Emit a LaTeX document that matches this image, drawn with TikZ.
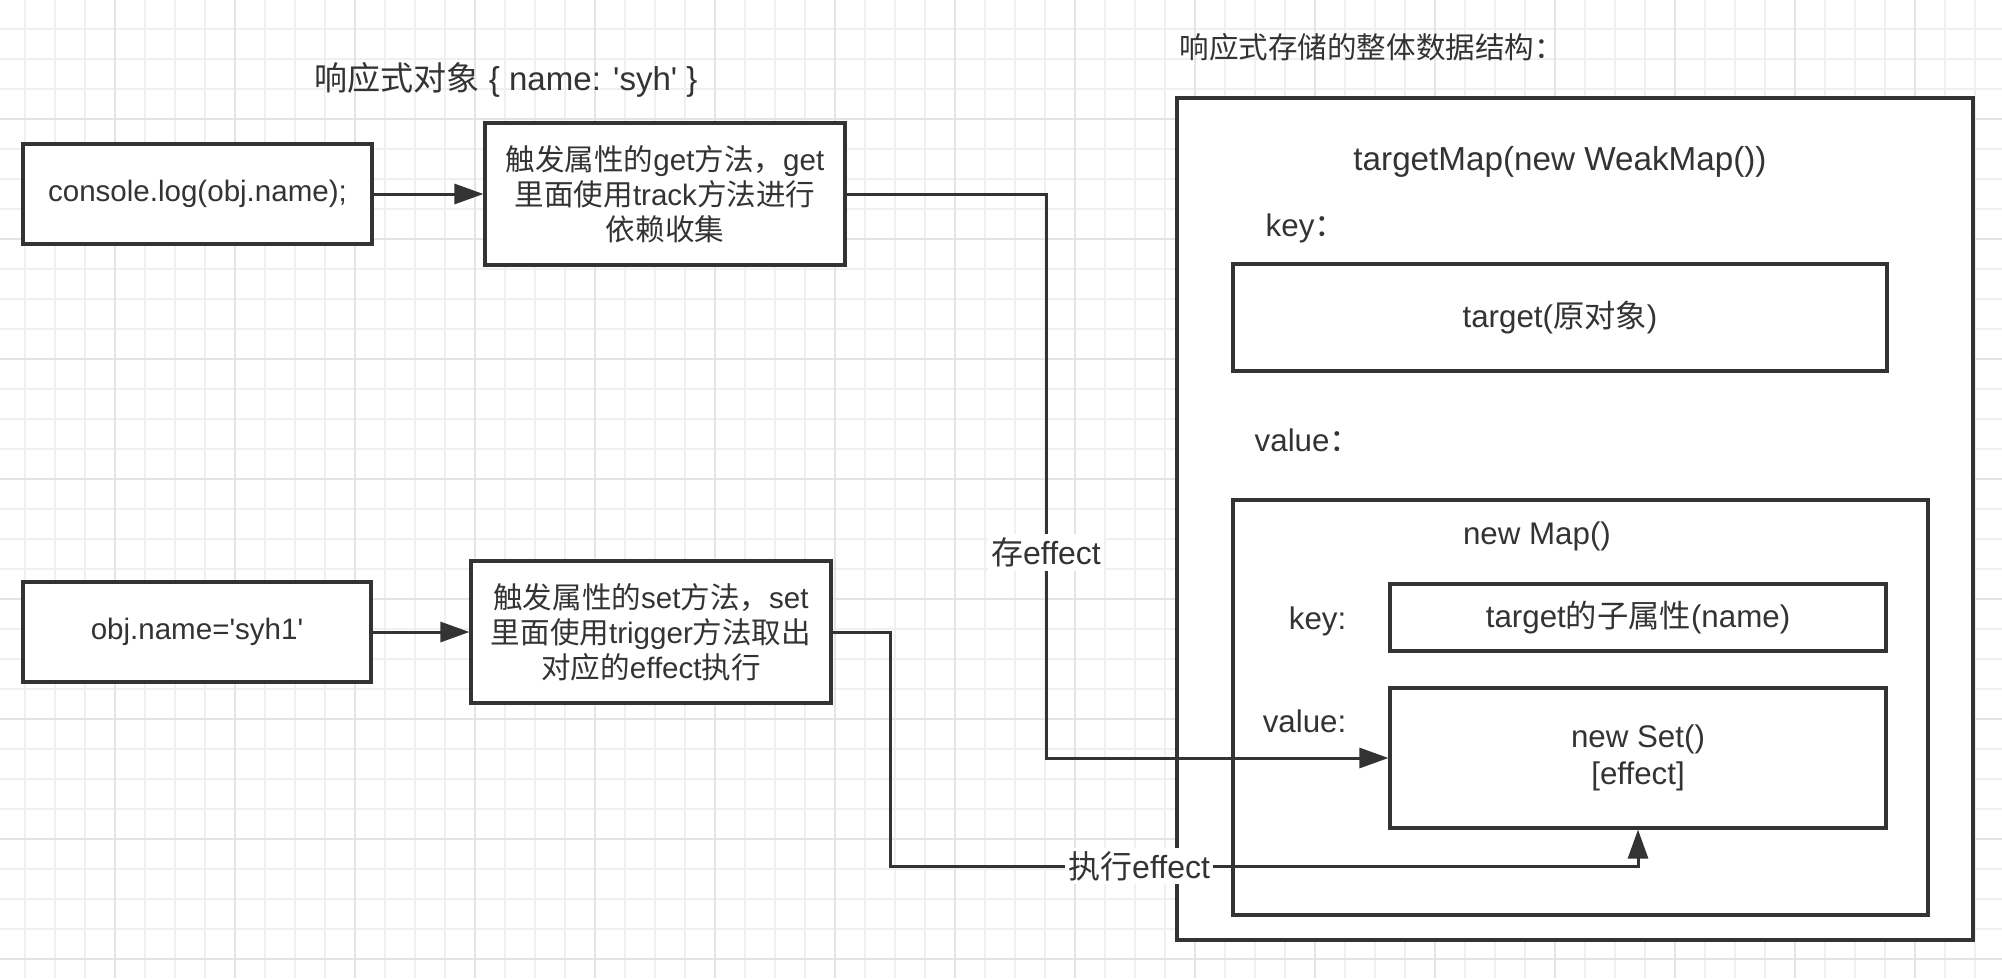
\documentclass[tikz,border=0pt]{standalone}
\usepackage{fontspec}
\defaultfontfeatures[\rmfamily]{}
\setmainfont{Liberation Sans}
\newfontfamily\zh{Noto Sans CJK SC}
\usetikzlibrary{arrows.meta}

\definecolor{ink}{HTML}{333333}
\definecolor{gridgray}{HTML}{F0F0F0}
\definecolor{gridgraydark}{HTML}{E4E4E4}

\tikzset{
    box/.style={draw=ink, fill=white, line width=0.9pt, inner sep=0pt, align=center, text=ink},
    txt/.style={text=ink, inner sep=0pt},
    flow/.style={draw=ink, line width=0.85pt, -{Triangle[length=0.29cm,width=0.2cm]}},
    lbl/.style={fill=white, text=ink, inner sep=1pt, font=\fontsize{9.1}{10}\selectfont},
    gridline/.style={draw=gridgray, line width=0.5pt},
    fleft/.style={font=\fontsize{8.4}{10}\selectfont},
    fright/.style={font=\fontsize{8.9}{10.5}\selectfont},
}

% box by top left corner, width and height (px)
\newcommand\mybox[7]{\node[box, #6, minimum width={#4*0.01cm}, minimum height={#5*0.01cm}] (#1) at ({#2+#4/2},{#3+#5/2}) {#7};}

\begin{document}
\begin{tikzpicture}[x=0.01cm, y=-0.01cm]
    \useasboundingbox (0,0) rectangle (2002,978);
    \fill[white] (0,0) rectangle (2002,978);

    % grid
    \foreach \gx in {25,55,...,2002} \draw[gridline] (\gx,0) -- (\gx,978);
    \foreach \gy in {29,59,...,978} \draw[gridline] (0,\gy) -- (2002,\gy);
    \foreach \gx in {115,235,...,2002} \draw[gridline, draw=gridgraydark] (\gx,0) -- (\gx,978);
    \foreach \gy in {119,239,...,978} \draw[gridline, draw=gridgraydark] (0,\gy) -- (2002,\gy);

    % titles
    \node[txt, font=\fontsize{9.4}{11}\selectfont] (title) at (506,80) {{\zh 响应式对象} \{ name: 'syh' \}};
    \node[txt, fleft, anchor=west] (structtitle) at (1179,47) {\zh 响应式存储的整体数据结构：};

    % left side
    \mybox{console}{23}{144}{349}{100}{fleft}{console.log(obj.name);}
    \mybox{getfn}{485}{123}{360}{142}{fleft}{{\zh 触发属性的}get{\zh 方法，}get\\{\zh 里面使用}track{\zh 方法进行}\\{\zh 依赖收集}}
    \mybox{assign}{23}{582}{348}{100}{fleft}{obj.name='syh1'}
    \mybox{setfn}{471}{561}{360}{142}{fleft}{{\zh 触发属性的}set{\zh 方法，}set\\{\zh 里面使用}trigger{\zh 方法取出}\\{\zh 对应的}effect{\zh 执行}}

    % right side, targetMap
    \mybox{targetmap}{1177}{98}{796}{842}{fright}{}
    \node[txt, font=\fontsize{9.45}{11}\selectfont] (wmtitle) at (1560,162) {targetMap(new WeakMap())};
    \node[txt, fright, anchor=west] (keyone) at (1265,228) {key{\zh ：}};
    \mybox{target}{1233}{264}{654}{107}{fright}{target({\zh 原对象})}
    \node[txt, fright, anchor=west] (valone) at (1254,440) {value{\zh ：}};

    % depsMap inside
    \mybox{depsmap}{1233}{500}{695}{415}{fright}{}
    \node[txt, fright] (maptitle) at (1537,536) {new Map()};
    \node[txt, fright, anchor=east] (keytwo) at (1347,621) {key:};
    \mybox{prop}{1390}{584}{496}{67}{fright}{target{\zh 的子属性}(name)}
    \node[txt, fright, anchor=east] (valtwo) at (1347,721) {value:};
    \mybox{dep}{1390}{688}{496}{140}{fright}{new Set()\\{[effect]}}

    % left boxes to handlers
    \draw[flow] (console) -- (getfn);
    \draw[flow] (assign) -- (setfn);

    % get to dep
    \coordinate (store) at (1046,0);
    \draw[flow] (getfn.east) -- (getfn.east -| store) -- node[lbl, pos=0.636] {{\zh 存}effect} (store |- dep.west) -- (dep.west);

    % set to dep
    \coordinate (run) at (890,866);
    \draw[flow] (setfn.east) -- (setfn.east -| run) -- (run) -- node[lbl, pos=0.333] {{\zh 执行}effect} (run -| dep.south) -- (dep.south);
\end{tikzpicture}
\end{document}
